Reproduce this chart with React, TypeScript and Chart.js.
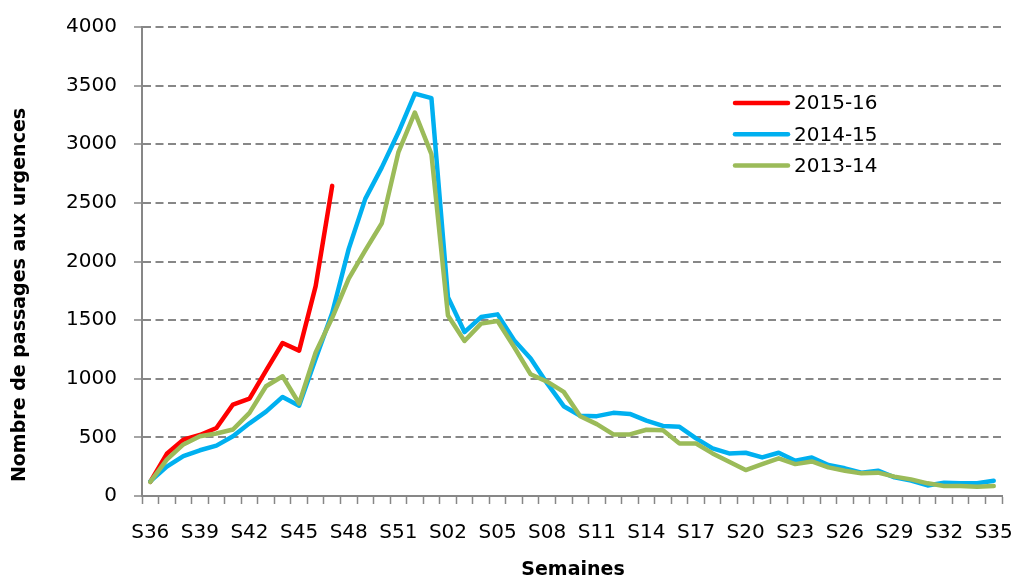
import React, { useEffect, useRef } from 'react';
import { Chart, registerables } from 'chart.js';

Chart.register(...registerables);

const weeks = [
  'S36', 'S37', 'S38', 'S39', 'S40', 'S41', 'S42', 'S43', 'S44', 'S45', 'S46', 'S47', 'S48',
  'S49', 'S50', 'S51', 'S52', 'S01', 'S02', 'S03', 'S04', 'S05', 'S06', 'S07', 'S08', 'S09',
  'S10', 'S11', 'S12', 'S13', 'S14', 'S15', 'S16', 'S17', 'S18', 'S19', 'S20', 'S21', 'S22',
  'S23', 'S24', 'S25', 'S26', 'S27', 'S28', 'S29', 'S30', 'S31', 'S32', 'S33', 'S34', 'S35',
];

const season201516: (number | null)[] = [
  120, 360, 480, 520, 580, 780, 830, 1070, 1305, 1240, 1790, 2645,
];

const season201415: number[] = [
  125, 250, 340, 390, 430, 510, 620, 720, 845, 770, 1170, 1560, 2108, 2534, 2803, 3100, 3432,
  3393, 1696, 1398, 1526, 1549, 1328, 1172, 960, 766, 684, 681, 709, 700, 643, 598, 590, 491,
  406, 363, 369, 329, 369, 301, 329, 264, 236, 199, 216, 159, 131, 90, 113, 108, 108, 130,
];

const season201314: number[] = [
  120, 310, 440, 510, 533, 567, 709, 936, 1021, 789, 1225, 1520, 1853, 2094, 2326, 2930, 3271,
  2916, 1540, 1322, 1470, 1492, 1271, 1038, 975, 888, 681, 613, 525, 525, 565, 560, 448, 448,
  363, 292, 221, 272, 321, 272, 295, 244, 216, 193, 199, 165, 142, 108, 85, 85, 79, 85,
];

const seriesLabels = ['2015-16', '2014-15', '2013-14'];
const seriesColors = ['#FF0000', '#00B0F0', '#9BBB59'];

const yTitle = 'Nombre de passages aux urgences';
const xTitle = 'Semaines';

const FONT = '"DejaVu Sans", sans-serif';
const GRID = '#878787';

const insideLegend = {
  id: 'insideLegend',
  afterDatasetsDraw(chart: any) {
    const ctx = chart.ctx as CanvasRenderingContext2D;
    ctx.save();
    ctx.font = `20px ${FONT}`;
    ctx.textBaseline = 'middle';
    ctx.textAlign = 'left';
    ctx.lineCap = 'round';
    seriesLabels.forEach((label, i) => {
      const y = 103 + i * 31.3;
      ctx.strokeStyle = seriesColors[i];
      ctx.lineWidth = 4.5;
      ctx.beginPath();
      ctx.moveTo(735, y);
      ctx.lineTo(788, y);
      ctx.stroke();
      ctx.fillStyle = '#000';
      ctx.fillText(label, 794, y + 1);
    });
    ctx.restore();
  },
};

const axisTitles = {
  id: 'axisTitles',
  afterDraw(chart: any) {
    const ctx = chart.ctx as CanvasRenderingContext2D;
    ctx.save();
    ctx.fillStyle = '#000';
    ctx.font = `bold 19px ${FONT}`;
    ctx.textAlign = 'center';
    ctx.textBaseline = 'middle';
    ctx.fillText(xTitle, 573, 570);
    ctx.translate(20, 295);
    ctx.rotate(-Math.PI / 2);
    ctx.fillText(yTitle, 0, 0);
    ctx.restore();
  },
};

export default function App() {
  const ref = useRef<HTMLCanvasElement>(null);

  useEffect(() => {
    if (!ref.current) return;
    const lineStyle = {
      borderWidth: 4.5,
      pointRadius: 0,
      tension: 0,
      borderJoinStyle: 'round' as const,
      borderCapStyle: 'round' as const,
      fill: false,
    };
    const chart = new Chart(ref.current, {
      type: 'line',
      data: {
        labels: weeks,
        datasets: [
          { label: seriesLabels[0], data: season201516, borderColor: seriesColors[0], backgroundColor: seriesColors[0], order: 3, ...lineStyle },
          { label: seriesLabels[1], data: season201415, borderColor: seriesColors[1], backgroundColor: seriesColors[1], order: 2, ...lineStyle },
          { label: seriesLabels[2], data: season201314, borderColor: seriesColors[2], backgroundColor: seriesColors[2], order: 1, ...lineStyle },
        ],
      },
      options: {
        animation: false,
        responsive: true,
        maintainAspectRatio: false,
        layout: { padding: { top: 27, right: 12, left: 0, bottom: 0 } },
        plugins: { legend: { display: false }, tooltip: { enabled: false } },
        scales: {
          x: {
            type: 'category',
            offset: true,
            grid: {
              offset: true,
              drawOnChartArea: false,
              drawTicks: true,
              tickLength: 8,
              tickColor: GRID,
              tickWidth: 1.5,
              color: GRID,
            },
            border: { display: true, color: GRID, width: 2 },
            ticks: {
              autoSkip: false,
              maxRotation: 0,
              minRotation: 0,
              padding: 17,
              color: '#000',
              font: { family: FONT, size: 20 },
              callback: (_v: any, i: number) => (i % 3 === 0 ? weeks[i] : ''),
            },
            title: { display: false },
            afterFit: (s: any) => {
              s.height = 83;
              s.paddingLeft = 0;
              s.paddingRight = 0;
            },
          },
          y: {
            min: 0,
            max: 4000,
            ticks: {
              stepSize: 500,
              padding: 17,
              color: '#000',
              font: { family: FONT, size: 20 },
              callback: (v: any) => String(v),
            },
            grid: {
              color: GRID,
              lineWidth: 2,
              drawTicks: true,
              tickLength: 8,
              tickColor: GRID,
              tickWidth: 1.5,
              tickBorderDash: [],
            },
            border: { display: true, color: GRID, width: 2, dash: [8, 4.5] },
            title: { display: false },
            afterFit: (s: any) => {
              s.width = 142;
              s.paddingTop = 0;
              s.paddingBottom = 0;
            },
          },
        },
      } as any,
      plugins: [insideLegend, axisTitles],
    });
    return () => chart.destroy();
  }, []);

  return (
    <div style={{ position: 'absolute', left: 0, top: 0, width: 1014, height: 579, background: '#fff' }}>
      <canvas ref={ref} />
    </div>
  );
}
